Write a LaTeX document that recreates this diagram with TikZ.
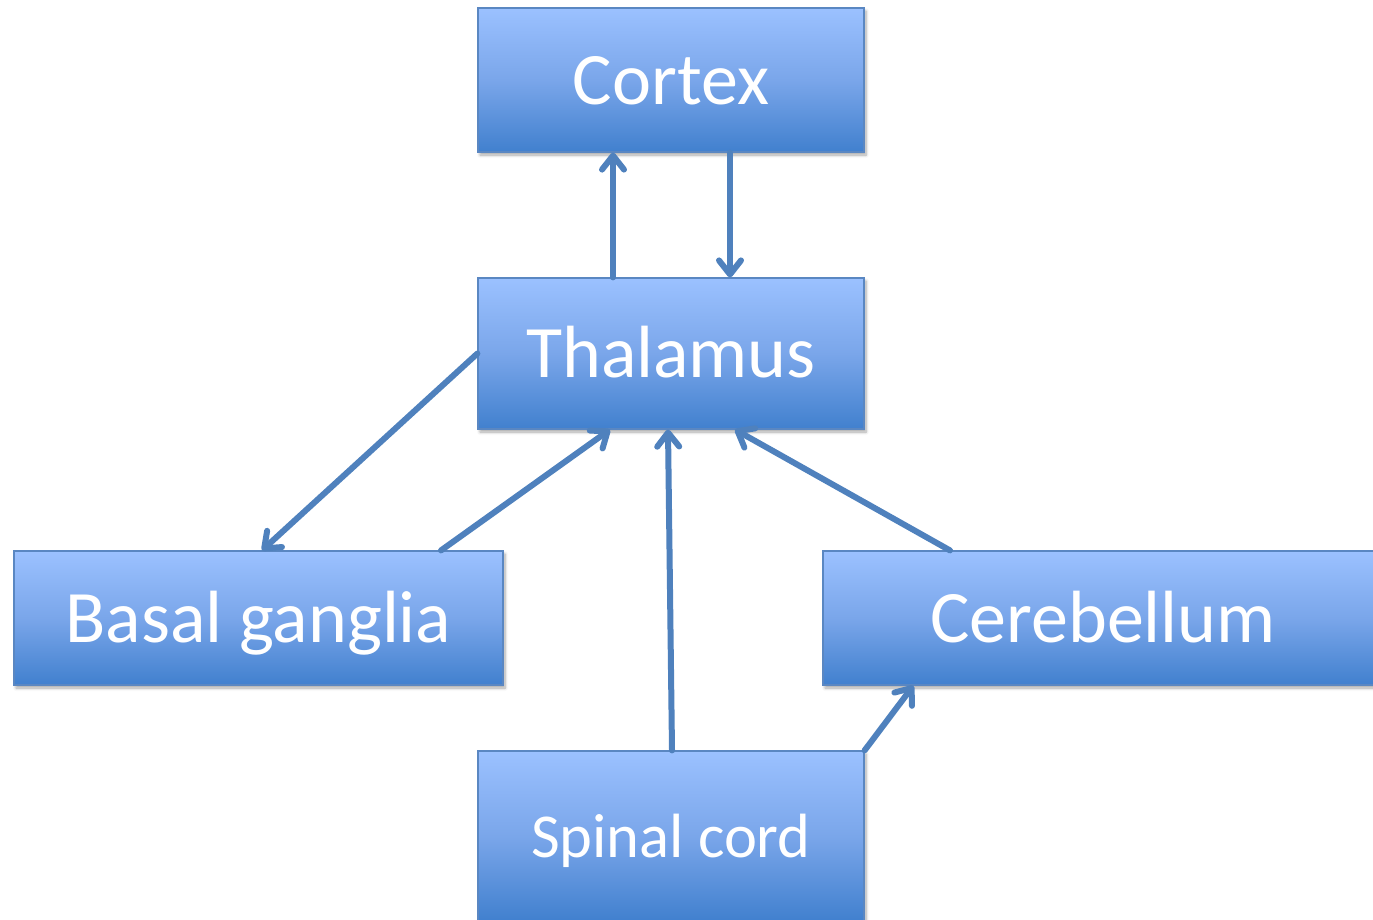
\documentclass[tikz,border=0pt]{standalone}
\usepackage{fontspec}
\setmainfont{Carlito}
\usetikzlibrary{arrows.meta,shadows.blur}
\definecolor{boxtop}{HTML}{9BC1FF}
\definecolor{boxmid}{HTML}{7AA6EA}
\definecolor{boxbot}{HTML}{4180CE}
\definecolor{boxline}{HTML}{5A87C2}
\definecolor{link}{HTML}{4F81BD}
\tikzset{
  region/.style={rectangle, draw=boxline, line width=1.2pt,
    top color=boxtop, bottom color=boxbot, middle color=boxmid,
    text=white, inner sep=0pt, text depth=0pt,
    blur shadow={shadow xshift=2pt, shadow yshift=-3pt,
      shadow blur steps=6, shadow opacity=35, shadow blur radius=3pt}},
  big/.style={font=\fontsize{74}{80}\selectfont, text height=48pt},
  small/.style={font=\fontsize{62.5}{70}\selectfont, text height=42pt},
  pathway/.style={draw=link, line width=6pt, line cap=round,
    -{Straight Barb[length=14pt, width=22pt, line width=6pt, round]}},
}
\begin{document}
\begin{tikzpicture}[x=1pt, y=-1pt]
\useasboundingbox (0,0) rectangle (1373,919);
\node[region, big, minimum width=386pt, minimum height=144pt]
  (cortex) at (671,80) {Cortex};
\node[region, big, minimum width=386pt, minimum height=151pt]
  (thal) at (671,353.5) {Thalamus};
\node[region, big, minimum width=489pt, minimum height=134pt]
  (basal) at (258.5,618) {Basal ganglia};
\node[region, big, minimum width=560pt, minimum height=134pt]
  (cereb) at (1103,618) {Cerebellum};
\node[region, small, minimum width=386pt, minimum height=170pt]
  (spinal) at (671,836) {Spinal cord};

% thalamo-cortical loop
\draw[pathway] ([xshift=-58pt]thal.north) -- ([xshift=-58pt]cortex.south);
\draw[pathway] ([xshift=59pt]cortex.south) -- ([xshift=59pt]thal.north);
% basal ganglia loop
\draw[pathway] (thal.west) -- ([xshift=3.5pt]basal.north);
\draw[pathway] ([xshift=182.5pt]basal.north) -- ([xshift=-61pt]thal.south);
% ascending inputs
\draw[pathway] ([xshift=1pt]spinal.north) -- ([xshift=-3pt]thal.south);
\draw[pathway] ([xshift=-153pt]cereb.north) -- ([xshift=64pt]thal.south);
\draw[pathway] (spinal.north east) -- ([xshift=91pt]cereb.south west);
\end{tikzpicture}
\end{document}
